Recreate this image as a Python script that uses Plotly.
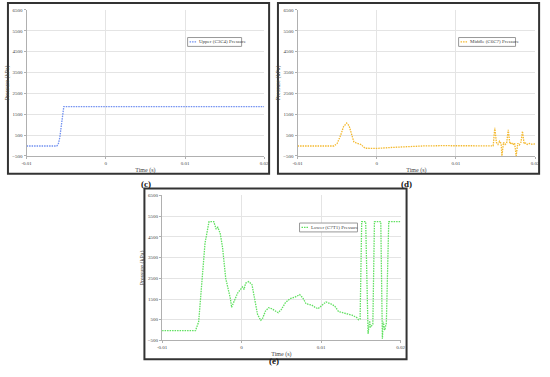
import plotly.graph_objects as go

# ---------------- data ----------------
t_upper = [-0.01, -0.0062, -0.0060, -0.0058, -0.0056, -0.0054, -0.0053, 0.02]
p_upper = [-25, -25, 60, 400, 1000, 1600, 1865, 1865]

t_middle = [-0.01, -0.0054, -0.0050, -0.0046, -0.0042, -0.0038, -0.0035, -0.0032, -0.0029,
            -0.0026, -0.0020, -0.0015, 0.0, 0.002, 0.004, 0.006, 0.008, 0.010, 0.012,
            0.0147, 0.0149, 0.0151, 0.0153, 0.0155, 0.0157, 0.0158, 0.0160, 0.0162, 0.0164,
            0.0166, 0.0168, 0.0170, 0.0172, 0.0174, 0.0176, 0.0178, 0.0180, 0.0182, 0.0184,
            0.0186, 0.0188, 0.0190, 0.0193, 0.0196, 0.0200]
p_middle = [-25, -25, 100, 450, 900, 1075, 950, 550, 180,
            120, 50, -130, -140, -90, -40, -20, -10, -10, -15,
            -15, 850, 150, 50, 200, 100, -500, 150, 50, 120,
            750, 80, 150, 30, 120, -500, 100, 30, 150, 680,
            80, 120, 50, 100, 60, 80]

t_lower = [-0.01, -0.0058, -0.0054, -0.0050, -0.0046, -0.0041, -0.0035, -0.0032, -0.0030,
           -0.0027, -0.0024, -0.0020, -0.0017, -0.0014, -0.00126, -0.0009, -0.0005, 0.0001,
           0.0003, 0.0005, 0.0009, 0.0013, 0.0016, 0.0020, 0.0024, 0.0026, 0.0030, 0.0034,
           0.0038, 0.0042, 0.0046, 0.0050, 0.0055, 0.0061, 0.0067, 0.0073, 0.0077, 0.0081,
           0.0088, 0.0092, 0.0096, 0.0100, 0.0106, 0.0112, 0.0117, 0.0122, 0.0127, 0.0133,
           0.0139, 0.0145, 0.0147, 0.0149, 0.0151, 0.0156, 0.0159, 0.0161, 0.0162, 0.0165,
           0.0167, 0.0175, 0.0177, 0.0178, 0.0180, 0.0182, 0.0185, 0.0200]
p_lower = [-30, -30, 400, 2200, 4200, 5230, 5230, 4870, 4960,
           4680, 4000, 2500, 2000, 1500, 1100, 1400, 1790, 2080,
           1960, 2260, 2340, 2200, 1550, 760, 470, 530, 920, 1080,
           1030, 920, 840, 1000, 1320, 1520, 1590, 1710, 1550, 1270,
           1210, 1110, 1030, 1160, 1360, 1270, 1160, 890, 840, 800,
           720, 600, 500, 530, 5230, 5230, -180, 450, 130, 290,
           5230, 5230, -420, 400, 0, 350, 5230, 5230]

x_ticks = [-0.01, 0, 0.01, 0.02]
x_ticklabels = ["-0.01", "0", "0.01", "0.02"]
y_ticks = [-500, 500, 1500, 2500, 3500, 4500, 5500, 6500]

W, H = 550, 377
FONT = "Liberation Serif"
DASH = "1.5px,1px"

def px(x):
    return x / W

def py(y):
    return 1 - y / H

fig = go.Figure()

panels = [
    dict(t=t_upper, p=p_upper, name="Upper (C3C4) Pressure", color="#6f8ff0",
         xd=(22, 264), yd=(8, 156), leg=(186, 36, 241, 45)),
    dict(t=t_middle, p=p_middle, name="Middle (C6C7) Pressure", color="#f4b92e",
         xd=(298, 540), yd=(8, 156), leg=(462, 36, 520, 45)),
    dict(t=t_lower, p=p_lower, name="Lower (C7T1) Pressure", color="#5fe05f",
         xd=(160, 403), yd=(196, 343), leg=(300, 224, 359, 233)),
]

layout_axes = {}
shapes = []
annotations = []
for i, pn in enumerate(panels):
    sfx = "" if i == 0 else str(i + 1)
    fig.add_trace(go.Scatter(
        x=pn["t"], y=pn["p"], mode="lines", name=pn["name"],
        line=dict(color=pn["color"], width=1.3, dash=DASH),
        xaxis="x" + sfx, yaxis="y" + sfx, showlegend=False,
    ))
    layout_axes["xaxis" + sfx] = dict(
        domain=[px(pn["xd"][0]), px(pn["xd"][1])], anchor="y" + sfx,
        range=[-0.01, 0.02], tickvals=x_ticks, ticktext=x_ticklabels,
        showgrid=True, gridcolor="#e4e4e4", gridwidth=1, zeroline=False,
        showline=True, linecolor="#b0b0b0", linewidth=1,
        ticks="outside", ticklen=2, tickcolor="#b0b0b0",
        tickfont=dict(family=FONT, size=5, color="#444"),
        title=dict(text="Time (s)", font=dict(family=FONT, size=6, color="#444"), standoff=2),
    )
    layout_axes["yaxis" + sfx] = dict(
        domain=[py(pn["yd"][1]), py(pn["yd"][0])], anchor="x" + sfx,
        range=[-500, 6500], tickvals=y_ticks,
        showgrid=True, gridcolor="#e4e4e4", gridwidth=1, zeroline=False,
        showline=True, linecolor="#b0b0b0", linewidth=1,
        ticks="outside", ticklen=2, tickcolor="#b0b0b0",
        tickfont=dict(family=FONT, size=5, color="#444"),
        title=dict(text="Pressure (kPa)", font=dict(family=FONT, size=6, color="#444"), standoff=2),
    )
    lx0, ly0, lx1, ly1 = pn["leg"]
    ym = (ly0 + ly1) / 2
    shapes.append(dict(type="rect", xref="paper", yref="paper",
                       x0=px(lx0), x1=px(lx1), y0=py(ly1), y1=py(ly0),
                       fillcolor="white", line=dict(color="#999", width=1), layer="above"))
    shapes.append(dict(type="line", xref="paper", yref="paper",
                       x0=px(lx0 + 2), x1=px(lx0 + 9), y0=py(ym), y1=py(ym),
                       line=dict(color=pn["color"], width=1.2, dash=DASH), layer="above"))
    annotations.append(dict(text=pn["name"], x=px(lx0 + 10), y=py(ym), xref="paper", yref="paper",
                            xanchor="left", yanchor="middle", showarrow=False,
                            font=dict(family=FONT, size=5, color="#444")))

boxes = [(3, 1, 269, 174), (278, 1, 544, 174), (142, 189, 409, 362)]
shapes += [dict(type="rect", xref="paper", yref="paper",
                x0=px(b[0]), x1=px(b[2]), y0=py(b[3]), y1=py(b[1]),
                line=dict(color="#333", width=2)) for b in boxes]

labels = [("(c)", 136, 184), ("(d)", 417, 184), ("(e)", 274, 371)]
annotations += [dict(text="<b>%s</b>" % s, x=px(x), y=py(y), xref="paper", yref="paper",
                     showarrow=False, font=dict(family=FONT, size=9, color="#111"))
                for s, x, y in labels]

fig.update_layout(
    width=W, height=H, margin=dict(l=0, r=0, t=0, b=0),
    paper_bgcolor="white", plot_bgcolor="white",
    shapes=shapes, annotations=annotations,
    **layout_axes,
)

fig.write_html(
    "out.html",
    config={"displayModeBar": False, "staticPlot": True},
    post_script=("document.documentElement.style.margin='0';"
                 "document.documentElement.style.padding='0';"
                 "document.body.style.margin='0';document.body.style.padding='0';"
                 "document.body.style.overflow='hidden';"
                 "document.documentElement.style.overflow='hidden';"),
)
